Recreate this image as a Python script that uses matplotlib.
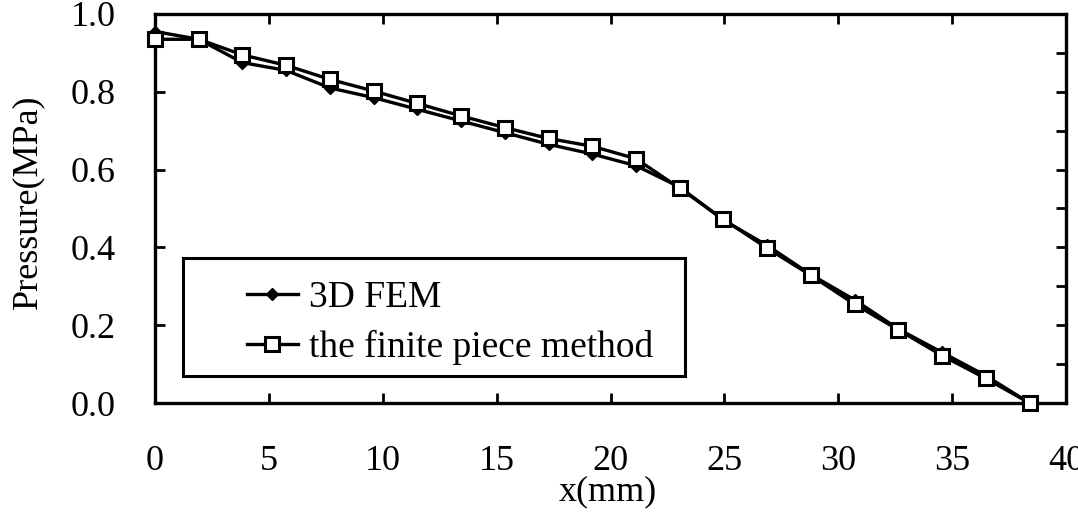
import matplotlib
matplotlib.use("Agg")
import matplotlib.pyplot as plt
from matplotlib.patches import Rectangle
from matplotlib.ticker import MultipleLocator

# Data
x_pos = [0.0, 1.92, 3.84, 5.76, 7.68, 9.6, 11.52, 13.44, 15.36, 17.28, 19.2,
         21.12, 23.04, 24.96, 26.88, 28.8, 30.72, 32.64, 34.56, 36.48, 38.4]
fem = [0.955, 0.935, 0.875, 0.855, 0.81, 0.785, 0.755, 0.725, 0.695, 0.665, 0.64,
       0.61, 0.555, 0.47, 0.405, 0.33, 0.265, 0.19, 0.13, 0.07, 0.0]
piece = [0.935, 0.935, 0.895, 0.868, 0.832, 0.802, 0.770, 0.738, 0.708, 0.680, 0.660,
         0.628, 0.552, 0.472, 0.398, 0.328, 0.254, 0.188, 0.122, 0.063, 0.0]
labels = ["3D FEM", "the finite piece method"]
x_ticks = [0, 5, 10, 15, 20, 25, 30, 35, 40]
y_ticks = [0.0, 0.2, 0.4, 0.6, 0.8, 1.0]

plt.rcParams['font.family'] = ['Liberation Serif', 'DejaVu Serif']

W, H = 1078, 512
fig = plt.figure(figsize=(W / 100, H / 100), dpi=100)
ax = fig.add_axes([155 / W, 1 - 403 / H, (1066 - 155) / W, (403 - 14) / H])

l1, = ax.plot(x_pos, fem, color='black', lw=2.4, marker='D', markersize=6.5,
              markerfacecolor='black', markeredgecolor='black', label=labels[0],
              clip_on=False, zorder=3)
l2, = ax.plot(x_pos, piece, color='black', lw=2.4, marker='s', markersize=10,
              markerfacecolor='white', markeredgecolor='black', markeredgewidth=2.2,
              label=labels[1], clip_on=False, zorder=4)

ax.set_xlim(0, 40)
ax.set_ylim(0, 1.0)
ax.set_xticks(x_ticks)
ax.set_xticklabels([str(t) for t in x_ticks])
ax.set_yticks(y_ticks)
ax.set_yticklabels([f"{t:.1f}" for t in y_ticks])
ax.yaxis.set_minor_locator(MultipleLocator(0.1))

for s in ax.spines.values():
    s.set_linewidth(2.4)

ax.tick_params(axis='both', which='major', direction='in', length=7, width=2,
               labelsize=26)
ax.tick_params(axis='x', which='major', top=True, pad=30)
ax.tick_params(axis='y', which='major', left=True, right=True, pad=28)
ax.tick_params(axis='y', which='minor', direction='in', left=False, right=True,
               length=7, width=2)

fig.text(608 / W, 1 - 492 / H, "x(mm)", fontsize=26, ha='center', va='center')
fig.text(28 / W, 1 - 202 / H, "Pressure(MPa)", fontsize=26, ha='center',
         va='center', rotation=90)

# Legend
fig.patches.append(Rectangle((183 / W, 1 - 376 / H), (685 - 183) / W, (376 - 258) / H,
                             transform=fig.transFigure, fill=False, lw=2.2,
                             edgecolor='black', zorder=5))
fig.legend(handles=[l1, l2], labels=labels, loc='center left',
           bbox_to_anchor=(247 / W, 1 - 323 / H), frameon=False, fontsize=27,
           borderpad=0, borderaxespad=0, handlelength=1.35, handletextpad=0.3,
           labelspacing=0.4)

fig.savefig("out.png", dpi=100)
